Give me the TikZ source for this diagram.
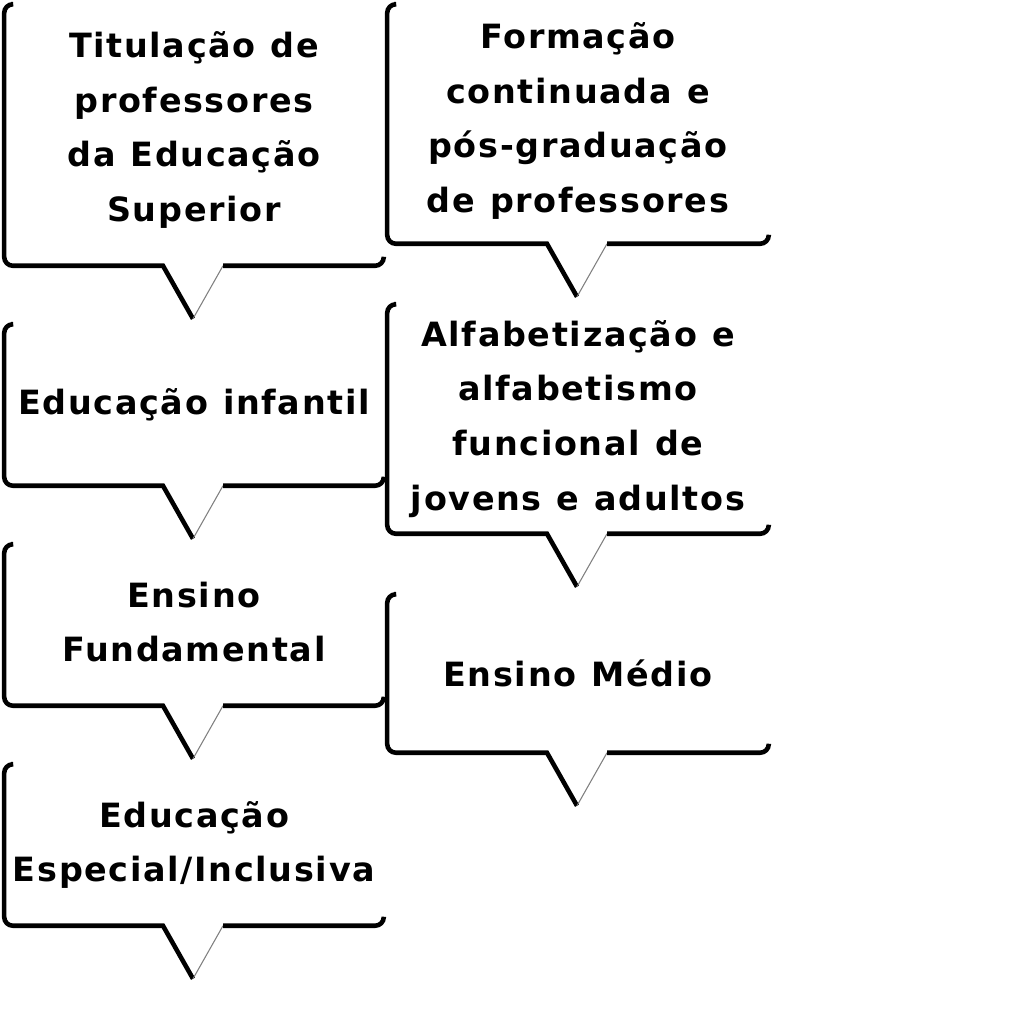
\documentclass[tikz,border=0pt]{standalone}
\usepackage{fontspec}
\setmainfont{DejaVu Sans}[LetterSpace=5]
\usetikzlibrary{calc}
\tikzset{
  bubble/.style={rectangle, inner sep=0pt, text width=3.78cm,
    align=center, font=\fontsize{9.5}{15.6}\selectfont\bfseries,
    execute at begin node={\spaceskip=0.45em\relax}},
  bubbleedge/.style={line width=1.3pt, color=black},
  tipedge/.style={line width=0.3pt, color=gray}
}

\begin{document}
\begin{tikzpicture}[x=0.01cm, y=-0.01cm]
  \useasboundingbox[fill=white] (0,0) rectangle (1024,1024);

  % left column
  \node[bubble, minimum height=2.6cm] (titul) at (194,135)
    {Titulação de\\professores\\da Educação\\Superior\vspace{0.1cm}};
  \node[bubble, minimum height=1.6cm] (infant) at (194,405)
    {Educação infantil};
  \node[bubble, minimum height=1.6cm] (fundam) at (194,625)
    {Ensino\\Fundamental\vspace{0.06cm}};
  \node[bubble, minimum height=1.6cm] (especial) at (194,845)
    {Educação\\Especial/Inclusiva};

  % right column
  \node[bubble, text width=3.8cm, minimum height=2.38cm] (formac) at (578,124)
    {Formação\\continuada e\\pós-graduação\\de professores\vspace{0.06cm}};
  \node[bubble, text width=3.8cm, minimum height=2.28cm] (alfab) at (578,419)
    {Alfabetização e\\alfabetismo\\funcional de\\jovens e adultos};
  \node[bubble, text width=3.8cm, minimum height=1.57cm] (medio) at (578,673.5)
    {Ensino Médio};

  % callout outlines
  \foreach \n in {titul, infant, fundam, especial, formac, alfab, medio} {
    \draw[bubbleedge] ($(\n.north west)+(7,0)$) [rounded corners=2.5pt]
      -- (\n.north west) -- (\n.south west) [sharp corners]
      -- ($(\n.south)+(-31,0)$) -- ($(\n.south)+(-1,53)$);
    \draw[tipedge] ($(\n.south)+(-1,53)$) -- ($(\n.south)+(29,0)$);
    \draw[bubbleedge] ($(\n.south)+(29,0)$) [rounded corners=2.5pt]
      -- (\n.south east) -- ($(\n.south east)+(0,-8)$);
  }
\end{tikzpicture}
\end{document}
